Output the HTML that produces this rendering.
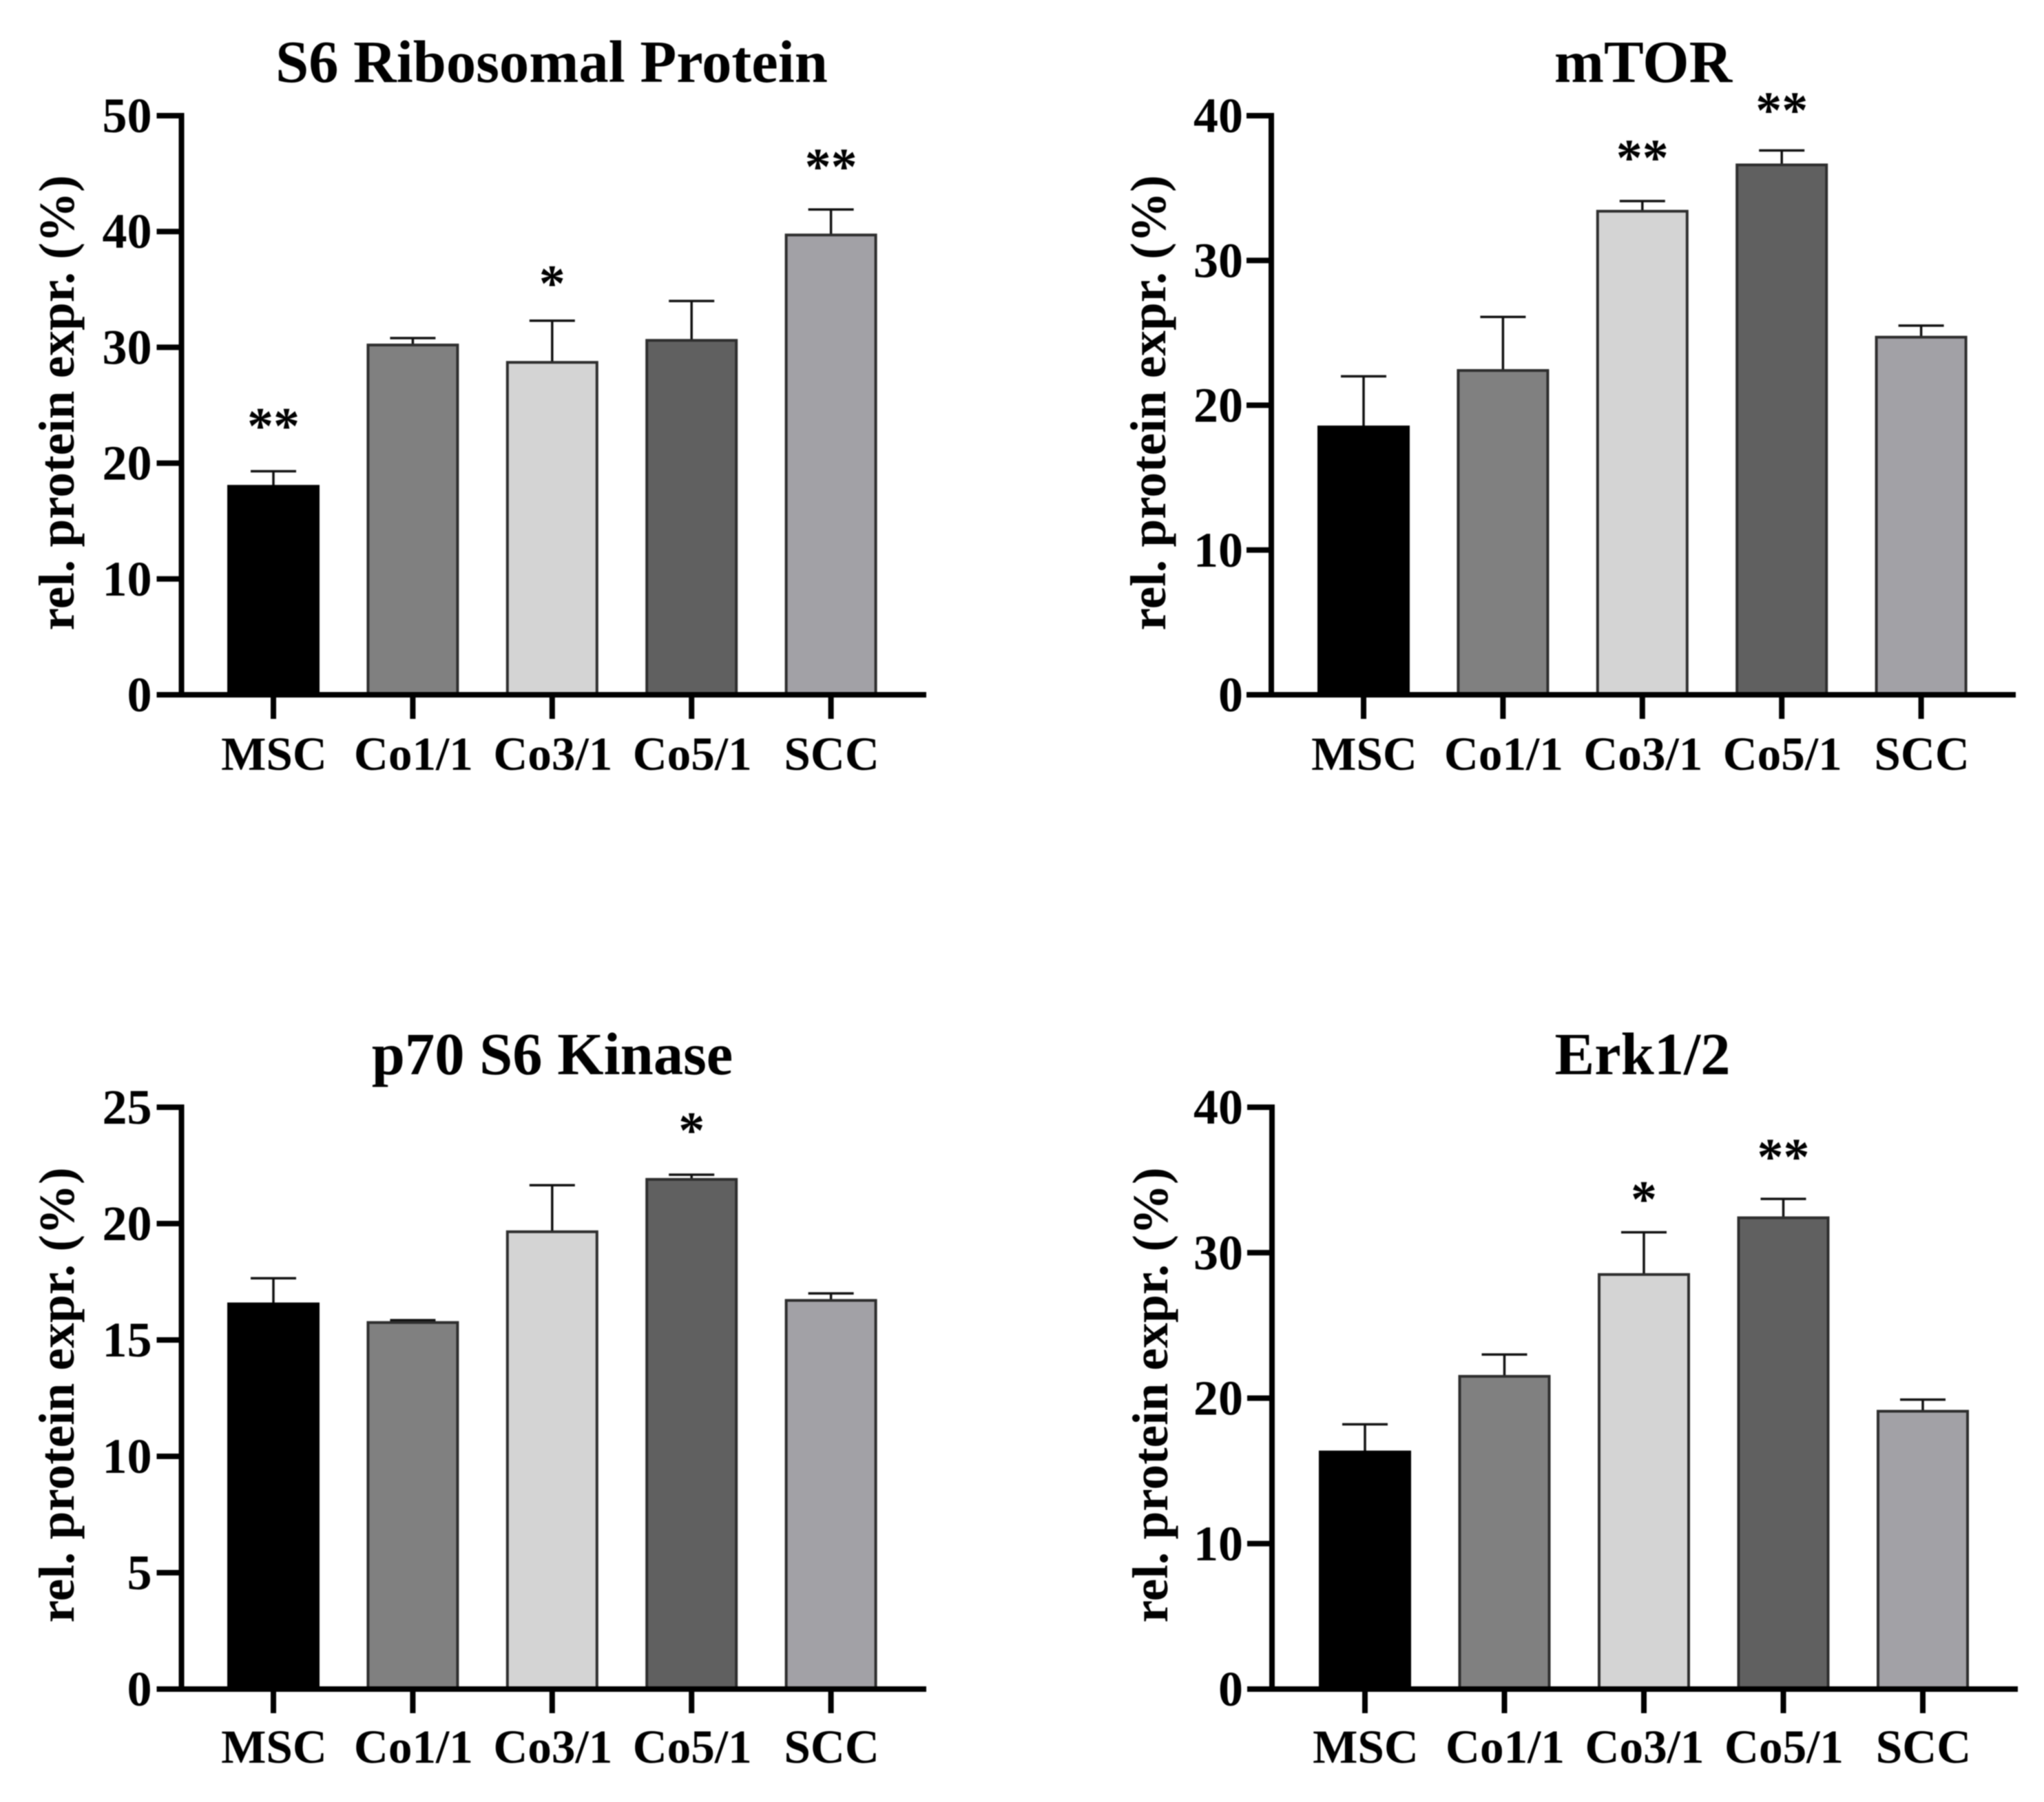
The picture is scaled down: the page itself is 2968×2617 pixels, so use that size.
<!DOCTYPE html>
<html lang="en">
<head>
<meta charset="utf-8">
<title>Relative protein expression</title>
<style>
html,body{margin:0;padding:0;background:#fff;}
#figure{display:block;width:2968px;height:2617px;filter:blur(0.7px);}
text{font-family:"Liberation Serif",serif;font-weight:bold;fill:#000;}
</style>
</head>
<body>
<svg id="figure" xmlns="http://www.w3.org/2000/svg" width="2968" height="2617" viewBox="0 0 2968 2617"></svg>
<script>
const categories = ['MSC', 'Co1/1', 'Co3/1', 'Co5/1', 'SCC'];
const barColors = ['#000000', '#808080', '#d4d4d4', '#606060', '#a2a1a6'];

const s6Values = [18.0, 30.2, 28.7, 30.6, 39.7];
const s6Errors = [1.3, 0.6, 3.6, 3.4, 2.2];
const s6Stars = ['**', '', '*', '', '**'];
const s6StarLevels = [23.6, 0, 35.9, 0, 46.0];
const s6Ticks = [0, 10, 20, 30, 40, 50];

const mtorValues = [18.5, 22.4, 33.4, 36.6, 24.7];
const mtorErrors = [3.5, 3.7, 0.7, 1.0, 0.8];
const mtorStars = ['', '', '**', '**', ''];
const mtorStarLevels = [0, 0, 37.4, 40.7, 0];
const mtorTicks = [0, 10, 20, 30, 40];

const p70Values = [16.55, 15.75, 19.65, 21.9, 16.7];
const p70Errors = [1.1, 0.1, 2.0, 0.2, 0.3];
const p70Stars = ['', '', '', '*', ''];
const p70StarLevels = [0, 0, 0, 24.2, 0];
const p70Ticks = [0, 5, 10, 15, 20, 25];

const erkValues = [16.3, 21.5, 28.5, 32.4, 19.1];
const erkErrors = [1.9, 1.5, 2.9, 1.3, 0.8];
const erkStars = ['', '', '*', '**', ''];
const erkStarLevels = [0, 0, 34.0, 36.9, 0];
const erkTicks = [0, 10, 20, 30, 40];

const panels = [
  {id:'s6', title:'S6 Ribosomal Protein', values:s6Values, errors:s6Errors, stars:s6Stars, starLevels:s6StarLevels, ticks:s6Ticks,
   axisX:263.5, axisEnd:1345, top:168, base:1009, firstX:397, step:202.4, titleX:801, titleY:119, labelX:107, labelY:585, xLabelY:1118, tickGap:43},
  {id:'mtor', title:'mTOR', values:mtorValues, errors:mtorErrors, stars:mtorStars, starLevels:mtorStarLevels, ticks:mtorTicks,
   axisX:1846, axisEnd:2927, top:168, base:1009, firstX:1980, step:202.4, titleX:2386, titleY:119, labelX:1692, labelY:585, xLabelY:1118, tickGap:41},
  {id:'p70', title:'p70 S6 Kinase', values:p70Values, errors:p70Errors, stars:p70Stars, starLevels:p70StarLevels, ticks:p70Ticks,
   axisX:263.5, axisEnd:1345, top:1608, base:2453, firstX:397, step:202.4, titleX:802, titleY:1560, labelX:107, labelY:2026, xLabelY:2560, tickGap:43},
  {id:'erk', title:'Erk1/2', values:erkValues, errors:erkErrors, stars:erkStars, starLevels:erkStarLevels, ticks:erkTicks,
   axisX:1847, axisEnd:2930, top:1608, base:2453, firstX:1982, step:202.5, titleX:2385, titleY:1560, labelX:1695, labelY:2026, xLabelY:2560, tickGap:42}
];

const SVG_NS = 'http://www.w3.org/2000/svg';
const root = document.getElementById('figure');

function make(parent, tag, attrs, content) {
  const el = document.createElementNS(SVG_NS, tag);
  for (const key in attrs) el.setAttribute(key, attrs[key]);
  if (content !== undefined) el.textContent = content;
  parent.appendChild(el);
  return el;
}

panels.forEach(function (p) {
  const maxTick = p.ticks[p.ticks.length - 1];
  const yScale = function (v) { return p.base - (v / maxTick) * (p.base - p.top); };
  const xScale = function (i) { return p.firstX + i * p.step; };

  const group = make(root, 'g', {});
  
  

  const title = make(group, 'text', {x:p.titleX, y:p.titleY, 'text-anchor':'middle', 'font-size':86.6}, p.title);
  
  

  const yTitle = make(group, 'text', {x:0, y:0, 'text-anchor':'middle', 'font-size':73.4,
    transform:'translate(' + p.labelX + ' ' + p.labelY + ') rotate(-90)'}, 'rel. protein expr. (%)');
  
  

  categories.forEach(function (name, i) {
    const cx = xScale(i);
    const yTop = yScale(p.values[i]);
    const yErr = yScale(p.values[i] + p.errors[i]);

    const whisker = make(group, 'line', {x1:cx, x2:cx, y1:yTop, y2:yErr, stroke:'#111', 'stroke-width':3.5});
    
    

    const cap = make(group, 'line', {x1:cx - 33, x2:cx + 33, y1:yErr, y2:yErr, stroke:'#111', 'stroke-width':3.5});
    
    

    const bar = make(group, 'rect', {x:cx - 65, y:yTop, width:130, height:p.base - yTop,
      fill:barColors[i], stroke:i === 0 ? '#000' : '#2e2e2e', 'stroke-width':4});
    
    

    const xTick = make(group, 'line', {x1:cx, x2:cx, y1:p.base, y2:p.base + 35, stroke:'#000', 'stroke-width':8});
    
    

    const xLabel = make(group, 'text', {x:cx + 1, y:p.xLabelY, 'text-anchor':'middle', 'font-size':69.2}, name);
    
    

    if (p.stars[i]) {
      const star = make(group, 'text', {x:cx, y:yScale(p.starLevels[i]) + 32, 'text-anchor':'middle', 'font-size':76}, p.stars[i]);
      
      
    }
  });

  p.ticks.forEach(function (t) {
    const y = yScale(t);
    const yTick = make(group, 'line', {x1:p.axisX - 36, x2:p.axisX, y1:y, y2:y, stroke:'#000', 'stroke-width':8});
    
    

    const yLabel = make(group, 'text', {x:p.axisX - p.tickGap, y:y + 24, 'text-anchor':'end', 'font-size':72}, String(t));
    
    
  });

  const yAxis = make(group, 'line', {x1:p.axisX, x2:p.axisX, y1:p.top - 4, y2:p.base + 4, stroke:'#000', 'stroke-width':8});
  
  

  const xAxis = make(group, 'line', {x1:p.axisX - 36, x2:p.axisEnd, y1:p.base, y2:p.base, stroke:'#000', 'stroke-width':8});
  
  
});
</script>
</body>
</html>
